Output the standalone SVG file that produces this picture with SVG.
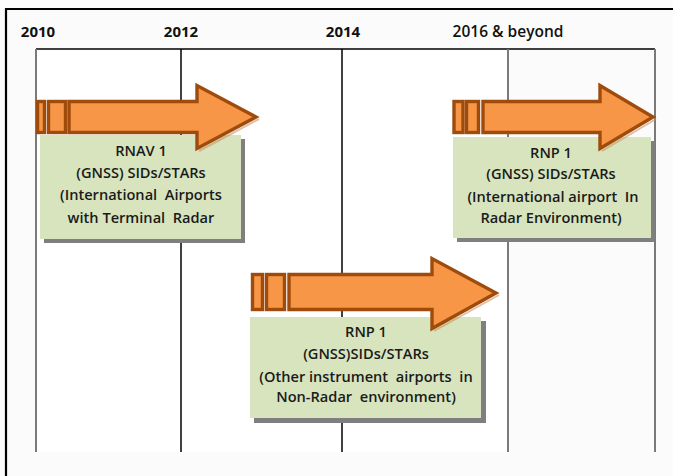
<svg xmlns="http://www.w3.org/2000/svg" width="673" height="476" viewBox="0 0 673 476">
<defs>
<style>
.year{font-family:"Open Sans","Liberation Sans",sans-serif;font-size:15px;font-weight:700;fill:#111;text-anchor:middle}
.yr2{font-weight:600;font-size:15.5px}
.box{fill:#d7e4bd}
.shadow{fill:#7f7f7f}
.lbl{font-family:"Open Sans","Liberation Sans",sans-serif;font-size:14.6px;font-weight:600;fill:#1a1a1a;text-anchor:middle}
.arrow{fill:#f79646;stroke:#9e4b0c;stroke-width:3.4;stroke-linejoin:miter}
.ash{fill:none;stroke:#c98a5a;stroke-width:2;opacity:0.55}
.grid{stroke:#000;stroke-width:1.5}
.gridg{stroke:#7a7a7a;stroke-width:2}
</style>
</defs>
<rect x="0" y="0" width="673" height="476" fill="#fbfbfb"/>
<rect x="36" y="49" width="472" height="403" fill="#ffffff"/>
<path d="M6,476 V9 H673" fill="none" stroke="#000" stroke-width="2.2"/>
<g id="timeline">
<line class="grid" x1="36" y1="49" x2="655" y2="49"/>
<line class="gridg" x1="36" y1="49" x2="36" y2="452"/>
<line class="grid" x1="181" y1="49" x2="181" y2="452"/>
<line class="grid" x1="342" y1="49" x2="342" y2="452"/>
<line class="gridg" x1="508" y1="49" x2="508" y2="452"/>
<line class="gridg" x1="655" y1="49" x2="655" y2="452"/>
<text class="year" x="38" y="37">2010</text>
<text class="year" x="181" y="37">2012</text>
<text class="year" x="343" y="37">2014</text>
<text class="year yr2" x="508" y="37">2016 &amp; beyond</text>
</g>
<g id="node-rnav1">
<rect class="shadow" x="44" y="139" width="201" height="104"/>
<rect class="box" x="40" y="135" width="201" height="104"/>
<text class="lbl" x="141" y="156">RNAV 1</text>
<text class="lbl" x="141" y="178">(GNSS) SIDs/STARs</text>
<text class="lbl" x="141" y="200">(International&#160; Airports</text>
<text class="lbl" x="141" y="223">with Terminal&#160; Radar</text>
</g>
<g id="node-rnp1-radar">
<rect class="shadow" x="457" y="141" width="198" height="101"/>
<rect class="box" x="453" y="137" width="198" height="101"/>
<text class="lbl" x="551" y="158">RNP 1</text>
<text class="lbl" x="551" y="179">(GNSS) SIDs/STARs</text>
<text class="lbl" x="553" y="202">(International airport&#160; In</text>
<text class="lbl" x="551" y="223">Radar Environment)</text>
</g>
<g id="node-rnp1-nonradar">
<rect class="shadow" x="254" y="321" width="232" height="102"/>
<rect class="box" x="250" y="317" width="231" height="101"/>
<text class="lbl" x="366" y="337">RNP 1</text>
<text class="lbl" x="366" y="359">(GNSS)SIDs/STARs</text>
<text class="lbl" x="366" y="382">(Other instrument&#160; airports&#160; in</text>
<text class="lbl" x="366" y="402">Non-Radar&#160; environment)</text>
</g>
<g id="connectors">
<g id="arrow-1">
<path class="ash" d="M199,151 L259,119"/>
<path class="arrow" d="M69,101.5 H197 V85.5 L256,117 L197,148.5 V132.5 H69 Z"/>
<rect class="arrow" x="37.5" y="101.5" width="7" height="31"/>
<rect class="arrow" x="48.5" y="101.5" width="17" height="31"/>
</g>
<g id="arrow-2">
<path class="ash" d="M602,151 L656,119"/>
<path class="arrow" d="M483,101.5 H600 V85.5 L653,117 L600,148.5 V132.5 H483 Z"/>
<rect class="arrow" x="454" y="101.5" width="9" height="31"/>
<rect class="arrow" x="466.5" y="101.5" width="12" height="31"/>
</g>
<g id="arrow-3">
<path class="ash" d="M434,331 L499,295"/>
<path class="arrow" d="M289,274.5 H432 V258.5 L496,293 L432,328.5 V309.5 H289 Z"/>
<rect class="arrow" x="252.5" y="274.5" width="10" height="35"/>
<rect class="arrow" x="266.5" y="274.5" width="18" height="35"/>
</g>
</g>
</svg>
